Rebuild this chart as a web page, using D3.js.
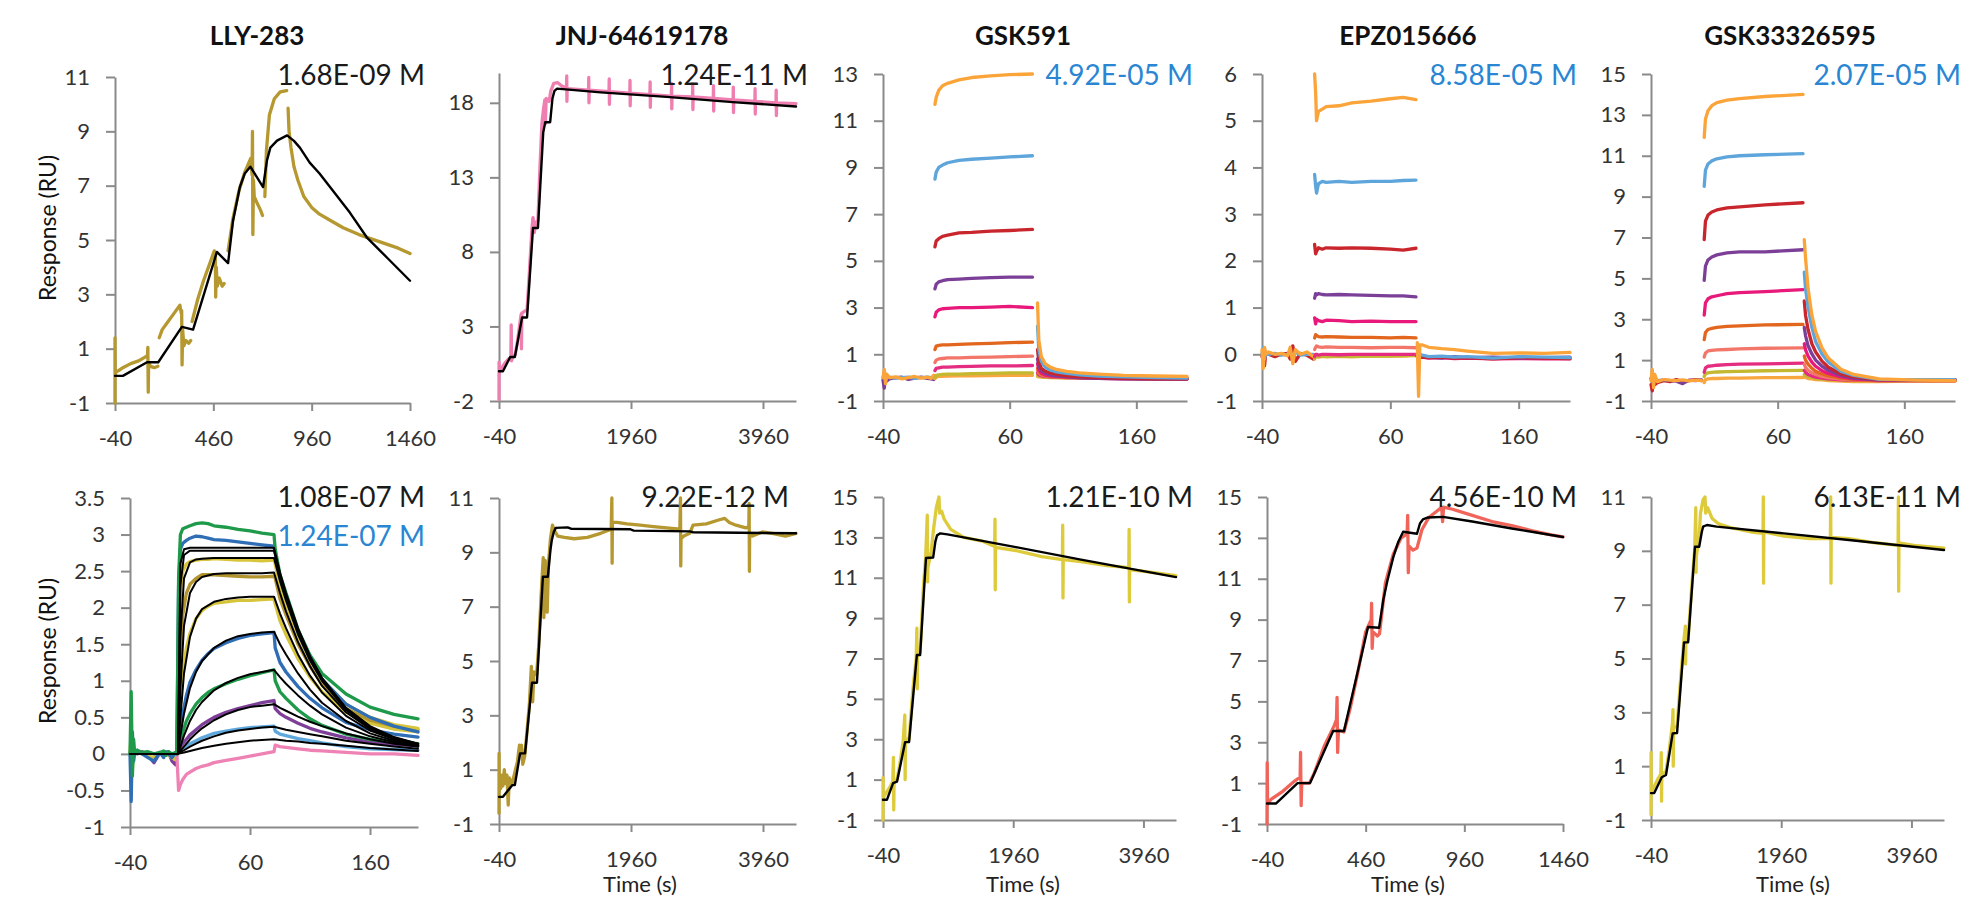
<!DOCTYPE html>
<html>
<head>
<meta charset="utf-8">
<script src="https://cdn.jsdelivr.net/npm/d3@7/dist/d3.min.js"></script>
<style>
  body { margin: 0; background: #fff; }
  svg text { font-family: Lato, 'Open Sans', sans-serif; }
</style>
</head>
<body>
<svg id="chart" width="1971" height="899"></svg>
<script>
// ---------- axis ticks ----------
const ticksSingleShort = [-40, 460, 960, 1460]
const ticksSingleLong = [-40, 1960, 3960]
const ticksMulti = [-40, 60, 160]

// ---------- LLY-283, single cycle (top) ----------
const lly283SccData = [
  [-40, -1.0], [-40, 1.4], [-39, 0.0], [-35, 0.15], [-20, 0.2], [0, 0.3], [40, 0.45], [80, 0.55], [115, 0.7],
  [125, 0.75], [127, 1.05], [129, -0.6], [131, 0.5], [140, 0.35], [160, 0.3], [178, 0.35], null,
  [185, 1.4], [200, 1.7], [230, 2.0], [260, 2.3], [290, 2.6], [297, 2.3], [299, 2.4], [301, 0.4], [304, 1.7],
  [310, 1.1], [320, 1.3], [335, 1.2], [345, 1.3], null,
  [352, 2.0], [380, 2.8], [410, 3.5], [440, 4.1], [465, 4.6], [470, 4.5], [472, 2.9], [475, 4.0], [480, 3.3],
  [490, 3.6], [505, 3.3], [515, 3.4], null,
  [535, 4.6], [560, 5.8], [590, 6.8], [620, 7.5], [650, 8.0], [657, 7.4], [659, 9.0], [661, 5.2], [664, 7.2],
  [668, 6.6], [680, 6.4], [700, 6.1], [710, 5.9], null,
  [722, 6.6], [730, 8.3], [745, 9.6], [770, 10.2], [800, 10.45], [833, 10.5], null,
  [840, 9.85], [845, 9.0], [855, 8.4], [870, 7.7], [890, 7.2], [920, 6.6], [960, 6.2], [1000, 5.95],
  [1060, 5.7], [1120, 5.45], [1200, 5.2], [1300, 4.95], [1400, 4.7], [1460, 4.5]
]
const lly283SccFit = [
  [-40, 0], [0, 0], [123, 0.5], [180, 0.5], [300, 1.8], [357, 1.7], [478, 4.56], [535, 4.15], [560, 5.7],
  [595, 6.95], [620, 7.45], [648, 7.7], [713, 6.95], [733, 7.94], [750, 8.4], [784, 8.66], [835, 8.85],
  [870, 8.65], [900, 8.4], [950, 7.85], [1000, 7.45], [1080, 6.7], [1155, 6.0], [1240, 5.1], [1350, 4.3], [1460, 3.5]
]

// ---------- LLY-283, multi cycle (bottom) ----------
const lly283McBaseTime = [-40, -39, -38, -37, -36, -34, -30, -25, -20, -15, -12, -10, -8, -5, -2, -1]
const lly283McBase = [
  [0, 0.1, -0.1, 0, 0.02, 0, 0.03, -0.02, -0.12, 0.02, 0, -0.02, 0.03, -0.1, -0.15, 0],
  [0, 0.3, -0.2, 0.05, 0, 0.02, 0.0, -0.03, -0.05, 0.0, 0.03, 0.0, -0.02, -0.05, -0.08, 0],
  [0, -0.65, 0.3, -0.1, 0.02, 0.05, 0, -0.05, -0.1, 0.02, -0.05, 0.03, 0.0, -0.05, 0.02, 0],
  [0, 0.85, -0.3, 0.2, 0, 0.05, 0.02, 0.03, 0.0, 0.02, 0.04, -0.02, 0.03, 0.0, 0.02, 0]
]
const lly283McTime = [-1, 0.5, 2, 4, 7, 10, 15, 20, 25, 30, 40, 50, 60, 70, 80, 81, 85, 90, 100, 110, 120, 140, 160, 180, 200]
const lly283McData = [
  [0, 2.4, 3.0, 3.08, 3.1, 3.12, 3.15, 3.16, 3.15, 3.12, 3.1, 3.07, 3.05, 3.02, 3.0, 2.8, 2.45, 2.2, 1.7, 1.35, 1.1, 0.82, 0.64, 0.54, 0.48],
  [0, 2.3, 2.8, 2.88, 2.92, 2.95, 2.98, 2.97, 2.95, 2.93, 2.92, 2.9, 2.88, 2.86, 2.84, 2.75, 2.4, 2.15, 1.66, 1.3, 1.02, 0.68, 0.5, 0.38, 0.3],
  [0, 1.2, 2.2, 2.5, 2.6, 2.63, 2.65, 2.66, 2.66, 2.67, 2.66, 2.65, 2.65, 2.64, 2.65, 2.6, 2.28, 2.05, 1.62, 1.28, 1.02, 0.68, 0.5, 0.4, 0.35],
  [0, 0.6, 1.4, 1.9, 2.2, 2.32, 2.4, 2.45, 2.45, 2.45, 2.44, 2.43, 2.42, 2.42, 2.43, 2.4, 2.12, 1.9, 1.5, 1.2, 0.95, 0.62, 0.46, 0.38, 0.33],
  [0, 0.3, 0.7, 1.1, 1.45, 1.65, 1.85, 1.96, 2.02, 2.06, 2.08, 2.1, 2.1, 2.11, 2.12, 2.05, 1.82, 1.63, 1.3, 1.05, 0.85, 0.57, 0.42, 0.34, 0.3],
  [0, 0.15, 0.35, 0.55, 0.8, 0.98, 1.15, 1.28, 1.37, 1.44, 1.52, 1.58, 1.62, 1.64, 1.66, 1.45, 1.25, 1.12, 0.92, 0.76, 0.63, 0.43, 0.33, 0.27, 0.23],
  [0, 0.08, 0.18, 0.3, 0.45, 0.55, 0.68, 0.77, 0.84, 0.89, 0.96, 1.02, 1.07, 1.11, 1.15, 1.0, 0.85, 0.76, 0.6, 0.48, 0.39, 0.27, 0.2, 0.16, 0.14],
  [0, 0.03, 0.08, 0.14, 0.2, 0.26, 0.33, 0.4, 0.45, 0.5, 0.57, 0.62, 0.66, 0.7, 0.73, 0.62, 0.55, 0.5, 0.42, 0.35, 0.3, 0.22, 0.16, 0.13, 0.11],
  [0, 0.02, 0.05, 0.08, 0.11, 0.14, 0.18, 0.22, 0.25, 0.28, 0.31, 0.34, 0.36, 0.37, 0.38, 0.31, 0.27, 0.25, 0.21, 0.18, 0.15, 0.1, 0.07, 0.06, 0.05],
  [0, -0.5, -0.42, -0.35, -0.28, -0.25, -0.2, -0.17, -0.15, -0.12, -0.09, -0.06, -0.03, 0.0, 0.03, 0.12, 0.1, 0.09, 0.07, 0.05, 0.04, 0.02, 0.0, 0.0, -0.02]
]
const lly283McFitTime = [-40, 0, 2, 5, 10, 15, 20, 30, 40, 50, 60, 70, 80, 85, 90, 100, 110, 120, 140, 160, 180, 200]
const lly283McFit = [
  [0, 0, 2.6, 2.8, 2.82, 2.82, 2.82, 2.82, 2.82, 2.82, 2.82, 2.82, 2.82, 2.48, 2.2, 1.72, 1.34, 1.04, 0.63, 0.38, 0.23, 0.14],
  [0, 0, 2.3, 2.72, 2.78, 2.78, 2.78, 2.78, 2.78, 2.78, 2.78, 2.78, 2.78, 2.45, 2.17, 1.7, 1.32, 1.03, 0.62, 0.37, 0.22, 0.14],
  [0, 0, 1.6, 2.4, 2.62, 2.66, 2.67, 2.68, 2.68, 2.68, 2.68, 2.68, 2.68, 2.37, 2.1, 1.64, 1.28, 1.0, 0.6, 0.36, 0.22, 0.13],
  [0, 0, 0.9, 1.75, 2.2, 2.35, 2.42, 2.46, 2.47, 2.47, 2.47, 2.47, 2.48, 2.2, 1.95, 1.53, 1.2, 0.93, 0.57, 0.34, 0.21, 0.13],
  [0, 0, 0.5, 1.1, 1.6, 1.85, 1.98, 2.08, 2.12, 2.14, 2.15, 2.15, 2.15, 1.92, 1.72, 1.36, 1.07, 0.84, 0.52, 0.32, 0.2, 0.12],
  [0, 0, 0.25, 0.55, 0.9, 1.12, 1.27, 1.45, 1.55, 1.61, 1.64, 1.66, 1.67, 1.5, 1.36, 1.1, 0.88, 0.7, 0.45, 0.28, 0.18, 0.11],
  [0, 0, 0.1, 0.25, 0.45, 0.6, 0.71, 0.87, 0.97, 1.04, 1.09, 1.12, 1.15, 1.05, 0.96, 0.8, 0.66, 0.54, 0.36, 0.24, 0.16, 0.1],
  [0, 0, 0.04, 0.1, 0.2, 0.28, 0.35, 0.46, 0.54, 0.6, 0.64, 0.66, 0.68, 0.63, 0.59, 0.51, 0.44, 0.38, 0.28, 0.2, 0.14, 0.1],
  [0, 0, 0.02, 0.05, 0.1, 0.14, 0.18, 0.24, 0.29, 0.32, 0.34, 0.36, 0.37, 0.35, 0.33, 0.3, 0.27, 0.24, 0.18, 0.14, 0.1, 0.07],
  [0, 0, 0.01, 0.02, 0.04, 0.06, 0.08, 0.11, 0.14, 0.16, 0.18, 0.19, 0.2, 0.19, 0.18, 0.17, 0.15, 0.14, 0.11, 0.08, 0.06, 0.04]
]

// ---------- JNJ-64619178 ----------
const jnjTopData = [
  [-40, -1.9], [-39, 0.6], [-37, -0.2], [-30, 0.1], [-10, 0.1], [20, 0.35], [60, 0.6], [100, 0.8], [140, 0.95],
  [145, 3.1], [150, 0.7], [170, 1.0], [205, 1.1], [240, 2.0], [270, 3.0], [295, 3.8], [300, 1.5], [306, 3.9],
  [340, 4.0], [385, 4.1], [420, 6.6], [460, 9.6], [475, 10.3], [495, 9.3], [520, 10.0], [550, 10.1], [580, 13.6],
  [610, 16.6], [635, 17.6], [655, 18.2], [662, 16.6], [675, 18.3], [720, 18.1], [745, 18.8], [790, 19.3],
  [850, 19.35], [920, 19.1],
  [983, 19.0], [986, 19.8], [989, 18.1], [993, 18.95],
  [1317, 18.85], [1320, 19.7], [1323, 18.0], [1327, 18.85],
  [1627, 18.75], [1630, 19.6], [1633, 17.9], [1637, 18.75],
  [1942, 18.65], [1945, 19.5], [1948, 17.8], [1952, 18.65],
  [2247, 18.55], [2250, 19.4], [2253, 17.7], [2257, 18.55],
  [2572, 18.45], [2575, 19.3], [2578, 17.6], [2582, 18.45],
  [2892, 18.4], [2895, 19.25], [2898, 17.55], [2902, 18.4],
  [3207, 18.3], [3210, 19.15], [3213, 17.45], [3217, 18.3],
  [3507, 18.2], [3510, 19.05], [3513, 17.35], [3517, 18.2],
  [3837, 18.1], [3840, 18.95], [3843, 17.25], [3847, 18.1],
  [4157, 18.0], [4160, 18.85], [4163, 17.15], [4167, 18.0],
  [4460, 17.95]
]
const jnjTopFit = [
  [-40, 0], [20, 0], [130, 0.95], [200, 0.95], [310, 3.6], [385, 3.6], [475, 9.6], [550, 9.6], [630, 16.0],
  [660, 16.7], [735, 16.7], [770, 18.3], [800, 18.8], [840, 18.95], [1500, 18.7], [2500, 18.4], [3500, 18.05], [4460, 17.75]
]
const jnjBotData = [
  [-40, -0.6], [-39, 1.6], [-37, 0.2], [-30, 0.6], [-15, 0.3], [0, 0.8], [20, 0.4], [40, 1.0], [60, 0.5],
  [80, 0.8], [100, -0.3], [115, 0.7], [140, 0.5], [160, 0.5], [200, 0.9], [240, 1.3], [270, 1.9], [290, 1.6],
  [300, 1.9], [320, 1.2], [350, 1.5], [380, 2.3], [420, 3.4], [450, 4.8], [470, 3.5], [490, 4.6], [530, 4.5],
  [560, 5.5], [600, 7.5], [630, 8.8], [640, 6.6], [660, 8.7], [690, 6.8], [710, 8.6], [740, 9.5], [770, 10.0],
  [800, 9.8], [850, 9.6], [950, 9.55], [1100, 9.5], [1300, 9.55], [1500, 9.7], [1660, 9.85],
  [1670, 11.0], [1674, 8.6], [1678, 10.1], [1750, 10.1], [1900, 10.05], [2100, 10.0], [2300, 9.95], [2500, 9.9],
  [2700, 9.85], [2710, 11.0], [2714, 8.5], [2718, 9.5], [2760, 9.6], [2850, 9.7], [2900, 10.0], [3100, 10.05],
  [3300, 10.2], [3380, 10.25], [3450, 10.1], [3550, 10.0], [3700, 9.9], [3745, 9.95], [3750, 10.8], [3754, 8.3],
  [3758, 9.7], [3800, 9.6], [3950, 9.75], [4100, 9.7], [4300, 9.6], [4460, 9.7]
]
const jnjBotFit = [
  [-40, 0], [20, 0], [160, 0.43], [200, 0.43], [280, 1.6], [355, 1.6], [460, 4.2], [535, 4.2], [625, 8.1],
  [700, 8.1], [740, 9.1], [760, 9.45], [790, 9.75], [820, 9.9], [1000, 9.92], [1050, 9.87], [1950, 9.85],
  [2000, 9.8], [2850, 9.77], [2900, 9.74], [4460, 9.7]
]

// ---------- GSK591 ----------
const gsk591BaseTime = [-40, -39, -38, -37, -35, -30, -25, -20, -15, -10, -5, -2, 0]
const gsk591Base = [
  [-0.1, -0.45, 0.1, -0.15, -0.05, 0.0, 0.02, -0.08, -0.02, 0.02, -0.03, -0.05, -0.08],
  [0.0, 0.1, -0.1, 0.05, 0.02, -0.02, 0.0, 0.02, -0.03, 0.0, 0.02, 0.0, 0.0],
  [0.0, 0.35, -0.25, 0.15, 0.0, 0.03, -0.05, 0.0, 0.05, -0.02, 0.02, -0.03, 0.1]
]
const gsk591AssocTime = [1, 2, 4, 7, 11, 20, 30, 45, 60, 78]
const gsk591Assoc = [
  [11.7, 12.0, 12.3, 12.5, 12.6, 12.75, 12.85, 12.92, 12.97, 13.0],
  [8.5, 8.8, 9.0, 9.1, 9.2, 9.3, 9.35, 9.4, 9.45, 9.5],
  [5.6, 5.85, 5.95, 6.05, 6.1, 6.2, 6.22, 6.27, 6.3, 6.35],
  [3.8, 4.0, 4.1, 4.15, 4.2, 4.22, 4.25, 4.28, 4.3, 4.3],
  [2.6, 2.8, 2.9, 2.95, 2.97, 3.0, 3.0, 3.02, 3.05, 3.0],
  [1.2, 1.35, 1.38, 1.4, 1.4, 1.42, 1.45, 1.47, 1.5, 1.52],
  [0.65, 0.75, 0.8, 0.82, 0.85, 0.85, 0.87, 0.88, 0.9, 0.92],
  [0.3, 0.4, 0.42, 0.45, 0.45, 0.47, 0.48, 0.5, 0.5, 0.52],
  [0.0, 0.1, 0.12, 0.14, 0.15, 0.15, 0.17, 0.18, 0.2, 0.2],
  [-0.05, 0.02, 0.05, 0.06, 0.07, 0.08, 0.08, 0.09, 0.1, 0.1]
]
const gsk591DissTime = [82, 83, 85, 88, 92, 97, 105, 115, 130, 150, 175, 200]
const gsk591Diss = [
  [3.2, 1.6, 0.9, 0.6, 0.45, 0.35, 0.27, 0.2, 0.15, 0.1, 0.07, 0.05],
  [2.2, 1.2, 0.7, 0.45, 0.33, 0.25, 0.18, 0.12, 0.07, 0.03, 0.0, -0.02],
  [1.2, 0.7, 0.4, 0.28, 0.2, 0.14, 0.08, 0.04, 0.0, -0.03, -0.05, -0.05],
  [0.8, 0.5, 0.3, 0.2, 0.12, 0.08, 0.04, 0.0, -0.03, -0.05, -0.06, -0.06],
  [0.6, 0.35, 0.2, 0.12, 0.08, 0.05, 0.02, 0.0, -0.03, -0.05, -0.05, -0.06],
  [0.4, 0.25, 0.15, 0.1, 0.06, 0.04, 0.02, 0.0, -0.02, -0.03, -0.04, -0.04],
  [0.3, 0.2, 0.12, 0.08, 0.05, 0.03, 0.01, 0.0, -0.02, -0.03, -0.03, -0.04],
  [0.2, 0.12, 0.08, 0.05, 0.03, 0.02, 0.0, -0.01, -0.02, -0.03, -0.03, -0.03],
  [0.1, 0.06, 0.04, 0.02, 0.01, 0.0, -0.01, -0.01, -0.02, -0.02, -0.02, -0.02],
  [0.05, 0.03, 0.02, 0.01, 0.0, 0.0, -0.01, -0.01, -0.01, -0.01, -0.02, -0.02]
]
const gsk591SccData = [
  [-40, -1.0], [-39, 1.1], [-37, 0.1], [0, 0.3], [60, 0.6], [110, 0.9], [120, 2.1], [125, -0.5], [130, 0.9],
  [175, 1.0], [220, 1.8], [270, 2.9], [295, 4.2], [300, 1.0], [305, 3.0], [360, 3.0], [420, 5.5], [470, 7.0],
  [480, 8.5], [486, 5.5], [490, 7.2], [530, 7.3], [580, 10.5], [615, 12.0], [640, 14.1], [645, 10.8], [650, 11.5],
  [700, 12.3], [740, 13.5], [780, 14.5], [820, 15.0], [830, 14.2], [860, 14.3], [900, 13.9], [1000, 13.4],
  [1200, 13.0], [1500, 12.8], [1675, 12.55], [1680, 13.9], [1684, 10.4], [1688, 12.5], [2000, 12.35],
  [2400, 12.05], [2715, 11.9], [2720, 13.6], [2724, 10.0], [2728, 11.9], [3000, 11.8], [3400, 11.6],
  [3735, 11.5], [3740, 13.4], [3744, 9.8], [3748, 11.4], [4000, 11.3], [4460, 11.1]
]
const gsk591SccFit = [
  [-40, 0], [20, 0], [115, 0.83], [175, 0.9], [300, 2.86], [360, 2.86], [480, 7.17], [530, 7.17], [620, 11.98],
  [730, 12.0], [765, 12.8], [790, 13.1], [840, 13.2], [950, 13.15], [2000, 12.52], [3000, 11.9], [4460, 11.03]
]

// ---------- EPZ015666 ----------
const epzBaseTime = [-40, -39, -38, -37, -35, -30, -25, -20, -18, -16, -14, -10, -5, 0]
const epzBase = [
  [-0.05, 0.1, -0.25, 0.05, 0.0, -0.05, 0.0, 0.02, -0.1, 0.18, -0.15, 0.02, -0.02, -0.1],
  [0.0, 0.15, -0.1, 0.02, 0.0, 0.02, -0.02, 0.0, 0.05, -0.05, 0.05, -0.02, 0.0, 0.0],
  [0.1, -0.3, 0.15, 0.0, 0.05, 0.0, 0.02, -0.03, 0.15, -0.2, 0.1, 0.0, 0.05, -0.05]
]
const epzAssocTime = [1, 1.8, 2.5, 4, 7, 10, 20, 30, 45, 60, 70, 80]
const epzAssoc = [
  [6.0, 5.6, 5.0, 5.2, 5.25, 5.3, 5.32, 5.38, 5.42, 5.47, 5.5, 5.45],
  [3.85, 3.6, 3.45, 3.65, 3.7, 3.68, 3.7, 3.68, 3.7, 3.7, 3.72, 3.73],
  [2.35, 2.15, 2.2, 2.28, 2.25, 2.28, 2.27, 2.28, 2.27, 2.25, 2.23, 2.27],
  [1.2, 1.3, 1.27, 1.3, 1.28, 1.27, 1.28, 1.27, 1.26, 1.25, 1.25, 1.23],
  [0.78, 0.65, 0.75, 0.72, 0.7, 0.73, 0.72, 0.7, 0.71, 0.7, 0.7, 0.7],
  [0.35, 0.42, 0.4, 0.38, 0.37, 0.38, 0.37, 0.36, 0.36, 0.35, 0.36, 0.35],
  [0.1, 0.15, 0.18, 0.16, 0.15, 0.16, 0.15, 0.15, 0.14, 0.15, 0.15, 0.14],
  [-0.05, 0.0, 0.0, -0.02, 0.0, 0.0, -0.01, 0.0, 0.0, 0.0, 0.0, 0.0],
  [-0.08, -0.05, -0.04, -0.05, -0.04, -0.05, -0.04, -0.05, -0.04, -0.04, -0.03, -0.02],
  [-0.1, -0.06, -0.05, -0.06, -0.05, -0.05, -0.05, -0.05, -0.04, -0.04, -0.04, -0.03]
]
const epzDissTime = [81, 82, 83, 85, 90, 100, 110, 120, 140, 160, 180, 200]
const epzDiss = [
  [0.25, -0.9, 0.2, 0.2, 0.15, 0.12, 0.1, 0.07, 0.02, 0.03, 0.02, 0.04],
  [0.0, 0.05, 0.0, -0.02, -0.05, -0.04, -0.06, -0.05, -0.08, -0.05, -0.06, -0.07],
  [-0.05, -0.03, -0.05, -0.06, -0.07, -0.06, -0.08, -0.07, -0.1, -0.07, -0.08, -0.09],
  [-0.03, -0.02, -0.04, -0.05, -0.06, -0.08, -0.05, -0.07, -0.06, -0.08, -0.07, -0.06],
  [-0.05, -0.06, -0.07, -0.06, -0.08, -0.07, -0.09, -0.08, -0.1, -0.09, -0.1, -0.1]
]
const epzSccData = [
  [-40, -1.0], [-39, 2.0], [-37, 0.0], [-20, 0.2], [40, 0.6], [100, 1.1], [128, 1.3], [130, 2.5], [133, -0.1],
  [136, 1.0], [175, 1.0], [200, 1.5], [250, 2.8], [300, 3.8], [312, 4.1], [315, 5.2], [318, 2.5], [322, 3.6],
  [350, 3.5], [380, 4.6], [420, 6.4], [460, 8.4], [488, 9.0], [490, 9.8], [493, 7.6], [497, 8.4], [520, 8.2],
  [530, 8.3], [560, 10.8], [600, 12.2], [640, 13.0], [670, 13.2], [673, 14.1], [676, 11.3], [680, 12.6],
  [700, 12.4], [720, 12.5], [745, 13.4], [780, 14.0], [820, 14.3], [845, 14.5], [850, 13.8], [855, 14.5],
  [900, 14.4], [1000, 14.1], [1100, 13.8], [1200, 13.6], [1300, 13.35], [1400, 13.15], [1460, 13.05]
]
const epzSccFit = [
  [-40, 0], [5, 0], [115, 1.0], [178, 1.0], [295, 3.55], [350, 3.55], [472, 8.64], [528, 8.6], [550, 10.0],
  [570, 10.9], [600, 12.06], [625, 12.8], [650, 13.3], [720, 13.2], [735, 13.7], [750, 13.9], [776, 14.0],
  [852, 14.03], [1000, 13.8], [1200, 13.46], [1460, 13.04]
]

// ---------- GSK33326595 ----------
const gsk333BaseTime = [-40, -39, -38, -37, -35, -30, -25, -20, -15, -10, -5, 0]
const gsk333Base = [
  [-0.2, -0.5, 0.1, -0.2, -0.1, 0.0, -0.05, 0.05, -0.05, 0.0, 0.05, 0.0],
  [0.1, 0.2, -0.1, 0.05, 0.0, 0.02, 0.0, -0.03, -0.15, 0.02, 0.0, 0.03],
  [0.0, 0.55, -0.35, 0.3, -0.05, 0.05, 0.02, 0.0, 0.03, -0.02, 0.02, 0.0]
]
const gsk333AssocTime = [2, 3, 5, 8, 12, 20, 30, 50, 80]
const gsk333Assoc = [
  [11.9, 12.8, 13.2, 13.45, 13.6, 13.72, 13.8, 13.9, 14.0],
  [9.5, 10.3, 10.6, 10.75, 10.85, 10.95, 11.0, 11.05, 11.1],
  [6.9, 7.8, 8.1, 8.25, 8.35, 8.45, 8.5, 8.6, 8.7],
  [4.9, 5.6, 5.9, 6.05, 6.15, 6.25, 6.3, 6.3, 6.4],
  [3.2, 3.8, 4.0, 4.1, 4.15, 4.25, 4.3, 4.35, 4.45],
  [2.0, 2.35, 2.5, 2.55, 2.6, 2.65, 2.68, 2.72, 2.75],
  [1.15, 1.35, 1.45, 1.48, 1.5, 1.52, 1.55, 1.58, 1.6],
  [0.4, 0.62, 0.7, 0.72, 0.75, 0.78, 0.8, 0.82, 0.85],
  [0.2, 0.32, 0.38, 0.4, 0.42, 0.44, 0.45, 0.48, 0.5],
  [-0.1, 0.05, 0.08, 0.1, 0.1, 0.12, 0.12, 0.14, 0.15]
]
const gsk333DissTime = [81, 82, 84, 87, 90, 95, 100, 110, 120, 140, 170, 200]
const gsk333Diss = [
  [6.9, 6.0, 4.5, 3.2, 2.4, 1.6, 1.1, 0.55, 0.3, 0.08, 0.02, 0.0],
  [5.3, 4.5, 3.6, 2.6, 1.9, 1.3, 0.9, 0.45, 0.25, 0.06, 0.05, 0.05],
  [3.9, 3.2, 2.5, 1.8, 1.4, 0.95, 0.65, 0.32, 0.18, 0.05, 0.05, 0.05],
  [2.6, 2.2, 1.7, 1.3, 1.0, 0.7, 0.5, 0.25, 0.12, 0.03, 0.03, 0.03],
  [1.8, 1.5, 1.2, 0.9, 0.7, 0.48, 0.35, 0.18, 0.08, 0.02, 0.05, 0.05],
  [1.2, 1.0, 0.8, 0.6, 0.45, 0.32, 0.23, 0.12, 0.05, 0.0, 0.0, 0.0],
  [0.8, 0.65, 0.5, 0.38, 0.3, 0.2, 0.14, 0.07, 0.03, 0.0, 0.0, 0.0],
  [0.5, 0.4, 0.3, 0.22, 0.17, 0.12, 0.08, 0.04, 0.02, 0.0, 0.0, 0.0],
  [0.3, 0.25, 0.2, 0.15, 0.1, 0.07, 0.05, 0.03, 0.0, 0.0, 0.0, 0.0],
  [0.2, 0.15, 0.1, 0.08, 0.05, 0.03, 0.0, -0.03, -0.05, -0.05, -0.03, -0.03]
]
const gsk333SccData = [
  [-40, -0.8], [-39, 1.5], [-37, 0.0], [0, 0.2], [60, 0.5], [110, 0.7], [118, 1.5], [122, -0.3], [126, 0.7],
  [190, 0.8], [240, 1.6], [290, 2.6], [298, 3.1], [302, 1.0], [306, 2.4], [360, 2.5], [420, 4.4], [470, 5.8],
  [488, 6.2], [492, 4.8], [496, 5.8], [530, 5.7], [580, 7.5], [630, 9.0], [648, 10.6], [652, 8.2], [656, 8.8],
  [700, 9.5], [720, 10.4], [760, 10.9], [790, 11.0], [800, 10.4], [830, 10.6], [900, 10.2], [1000, 10.0],
  [1200, 9.85], [1500, 9.7], [1680, 9.65], [1685, 11.0], [1689, 7.8], [1693, 9.7], [2000, 9.55], [2400, 9.45],
  [2715, 9.45], [2720, 11.0], [2724, 7.8], [2728, 9.5], [3000, 9.45], [3400, 9.3], [3755, 9.2], [3760, 11.0],
  [3764, 7.5], [3768, 9.3], [4000, 9.2], [4460, 9.1]
]
const gsk333SccFit = [
  [-40, 0], [10, 0], [125, 0.59], [190, 0.67], [293, 2.22], [360, 2.23], [467, 5.6], [530, 5.6], [635, 9.15],
  [700, 9.15], [740, 9.7], [760, 9.9], [820, 9.96], [970, 9.9], [2000, 9.65], [3000, 9.4], [4460, 9.03]
]

// ---------- colours ----------
const multiColors = ['#FAA43A', '#5DA5DA', '#C9252C', '#7B3F98', '#E8197A', '#E2661E', '#F2766A', '#E42D80', '#C4B830', '#F8A640']
const lly283McColors = ['#1E9A4A', '#2F6DB5', '#D9C53B', '#B3952F', '#D6C43A', '#2F6DB5', '#1E9A4A', '#7D3F98', '#5EA8DD', '#EF82B4']
const lly283McBaseColors = ['#7D3F98', '#D9C53B', '#2F6DB5', '#1E9A4A']
const baseColorIdx = [3, 1, 0]
const gold = '#B5982F'
const noteBlue = '#2A86D3'

const pairs = (times, values) => times.map((t, i) => [t, values[i]])

// multi-cycle panels: baseline, association and dissociation pieces, largest drawn last
function multiSeries (baseTime, base, baseColors, assocTime, assoc, dissTime, diss) {
  const out = []
  base.forEach((v, i) => out.push({ points: pairs(baseTime, v), color: baseColors[i], width: 3.3 }))
  for (let i = assoc.length - 1; i >= 0; i--) {
    out.push({ points: pairs(assocTime, assoc[i]), color: multiColors[i], width: 3.3 })
  }
  for (let i = diss.length - 1; i >= 0; i--) {
    out.push({ points: pairs(dissTime, diss[i]), color: multiColors[i], width: 3.3 })
  }
  return out
}

const svg = d3.select('#chart')

const panels = [
  {
    left: 115, right: 410, top: 77, bottom: 403, xDomain: [-40, 1460], yDomain: [-1, 11],
    xTicks: ticksSingleShort, yTicks: d3.range(-1, 12, 2),
    title: 'LLY-283', titleX: 257, yLabel: 228,
    notes: [{ text: '1.68E-09 M', x: 425, y: 85, color: '#1a1a1a' }],
    series: [
      { points: lly283SccData, color: gold, width: 3.3 },
      { points: lly283SccFit, color: '#000', width: 2.4 }
    ]
  },
  {
    left: 499, right: 796, top: 73, bottom: 401, xDomain: [-40, 4460], yDomain: [-2, 20],
    xTicks: ticksSingleLong, yTicks: [-2, 3, 8, 13, 18],
    title: 'JNJ-64619178', titleX: 642,
    notes: [{ text: '1.24E-11 M', x: 808, y: 85, color: '#1a1a1a' }],
    series: [
      { points: jnjTopData, color: '#EE7FB0', width: 3.3 },
      { points: jnjTopFit, color: '#000', width: 2.4 }
    ]
  },
  {
    left: 883, right: 1187, top: 74, bottom: 401, xDomain: [-40, 200], yDomain: [-1, 13],
    xTicks: ticksMulti, yTicks: d3.range(-1, 14, 2),
    title: 'GSK591', titleX: 1023,
    notes: [{ text: '4.92E-05 M', x: 1193, y: 85, color: noteBlue }],
    series: multiSeries(gsk591BaseTime, gsk591Base, baseColorIdx.map(i => multiColors[i]),
      gsk591AssocTime, gsk591Assoc, gsk591DissTime, gsk591Diss)
  },
  {
    left: 1262, right: 1570, top: 74, bottom: 401, xDomain: [-40, 200], yDomain: [-1, 6],
    xTicks: ticksMulti, yTicks: d3.range(-1, 7, 1),
    title: 'EPZ015666', titleX: 1408,
    notes: [{ text: '8.58E-05 M', x: 1577, y: 85, color: noteBlue }],
    series: multiSeries(epzBaseTime, epzBase, [multiColors[2], multiColors[1], multiColors[0]],
      epzAssocTime, epzAssoc, epzDissTime, epzDiss)
  },
  {
    left: 1651, right: 1955, top: 74, bottom: 401, xDomain: [-40, 200], yDomain: [-1, 15],
    xTicks: ticksMulti, yTicks: d3.range(-1, 16, 2),
    title: 'GSK33326595', titleX: 1790,
    notes: [{ text: '2.07E-05 M', x: 1961, y: 85, color: noteBlue }],
    series: multiSeries(gsk333BaseTime, gsk333Base, [multiColors[2], multiColors[3], multiColors[0]],
      gsk333AssocTime, gsk333Assoc, gsk333DissTime, gsk333Diss)
  },
  {
    left: 130, right: 418, top: 498, bottom: 827, xDomain: [-40, 200], yDomain: [-1, 3.5],
    xTicks: ticksMulti, yTicks: d3.range(-1, 3.6, 0.5), yLabel: 651,
    notes: [
      { text: '1.08E-07 M', x: 425, y: 507, color: '#1a1a1a' },
      { text: '1.24E-07 M', x: 425, y: 546, color: noteBlue }
    ],
    series: [].concat(
      lly283McBase.map((v, i) => ({ points: pairs(lly283McBaseTime, v), color: lly283McBaseColors[i], width: 3.3 })),
      lly283McData.map((v, i) => ({ points: pairs(lly283McTime, v), color: lly283McColors[i], width: 3.3 })).reverse(),
      lly283McFit.map(v => ({ points: pairs(lly283McFitTime, v), color: '#000', width: 2 }))
    )
  },
  {
    left: 499, right: 796, top: 498, bottom: 824, xDomain: [-40, 4460], yDomain: [-1, 11],
    xTicks: ticksSingleLong, yTicks: d3.range(-1, 12, 2), xLabel: 640,
    notes: [{ text: '9.22E-12 M', x: 789, y: 507, color: '#1a1a1a' }],
    series: [
      { points: jnjBotData, color: gold, width: 3.3 },
      { points: jnjBotFit, color: '#000', width: 2.4 }
    ]
  },
  {
    left: 883, right: 1176, top: 497, bottom: 820, xDomain: [-40, 4460], yDomain: [-1, 15],
    xTicks: ticksSingleLong, yTicks: d3.range(-1, 16, 2), xLabel: 1023,
    notes: [{ text: '1.21E-10 M', x: 1193, y: 507, color: '#1a1a1a' }],
    series: [
      { points: gsk591SccData, color: '#DDCB3C', width: 3.3 },
      { points: gsk591SccFit, color: '#000', width: 2.4 }
    ]
  },
  {
    left: 1267, right: 1563, top: 497, bottom: 824, xDomain: [-40, 1460], yDomain: [-1, 15],
    xTicks: ticksSingleShort, yTicks: d3.range(-1, 16, 2), xLabel: 1408,
    notes: [{ text: '4.56E-10 M', x: 1577, y: 507, color: '#1a1a1a' }],
    series: [
      { points: epzSccData, color: '#F0645A', width: 3.3 },
      { points: epzSccFit, color: '#000', width: 2.4 }
    ]
  },
  {
    left: 1651, right: 1944, top: 497, bottom: 820, xDomain: [-40, 4460], yDomain: [-1, 11],
    xTicks: ticksSingleLong, yTicks: d3.range(-1, 12, 2), xLabel: 1793,
    notes: [{ text: '6.13E-11 M', x: 1961, y: 507, color: '#1a1a1a' }],
    series: [
      { points: gsk333SccData, color: '#DDCB3C', width: 3.3 },
      { points: gsk333SccFit, color: '#000', width: 2.4 }
    ]
  }
]

function drawPanel (p, idx) {
  const x = d3.scaleLinear().domain(p.xDomain).range([p.left, p.right])
  const y = d3.scaleLinear().domain(p.yDomain).range([p.bottom, p.top])
  const g = svg.append('g').attr('class', 'panel')

  g.append('g')
    .attr('transform', `translate(0,${p.bottom})`)
    .call(d3.axisBottom(x).tickValues(p.xTicks).tickSize(8).tickSizeOuter(0).tickPadding(19).tickFormat(d => String(d)))
  g.append('g')
    .attr('transform', `translate(${p.left},0)`)
    .call(d3.axisLeft(y).tickValues(p.yTicks).tickSize(9).tickSizeOuter(0).tickPadding(16).tickFormat(d => String(+d.toFixed(1))))

  g.selectAll('.domain, .tick line').attr('stroke', '#8a8a8a').attr('stroke-width', 2)
  g.selectAll('.tick text')
    .attr('fill', '#333')
    .style('font-size', '22px')
    .style('font-family', "Lato, 'Open Sans', sans-serif")

  const clipId = 'clip' + idx
  svg.append('clipPath').attr('id', clipId)
    .append('rect')
    .attr('x', p.left - 2).attr('y', p.top - 4)
    .attr('width', p.right - p.left + 8).attr('height', p.bottom - p.top + 6)

  const line = d3.line()
    .defined(d => d !== null)
    .x(d => x(d[0]))
    .y(d => y(d[1]))

  g.append('g').attr('clip-path', `url(#${clipId})`)
    .selectAll('path')
    .data(p.series)
    .enter()
    .append('path')
    .attr('d', d => line(d.points))
    .attr('fill', 'none')
    .attr('stroke', d => d.color)
    .attr('stroke-width', d => d.width)
    .attr('stroke-linejoin', 'round')
    .attr('stroke-linecap', 'round')

  if (p.title) {
    g.append('text')
      .attr('x', p.titleX).attr('y', 45)
      .attr('text-anchor', 'middle')
      .style('font-size', '26px').style('font-weight', 700)
      .attr('fill', '#111')
      .text(p.title)
  }

  g.selectAll('.note')
    .data(p.notes)
    .enter()
    .append('text')
    .attr('class', 'note')
    .attr('x', d => d.x).attr('y', d => d.y)
    .attr('text-anchor', 'end')
    .style('font-size', '28px')
    .attr('fill', d => d.color)
    .text(d => d.text)

  if (p.yLabel) {
    g.append('text')
      .attr('transform', `translate(48,${p.yLabel}) rotate(-90)`)
      .attr('text-anchor', 'middle')
      .attr('dy', '0.35em')
      .style('font-size', '23px')
      .attr('fill', '#111')
      .text('Response (RU)')
  }
  if (p.xLabel) {
    g.append('text')
      .attr('x', p.xLabel).attr('y', 892)
      .attr('text-anchor', 'middle')
      .style('font-size', '22px')
      .attr('fill', '#222')
      .text('Time (s)')
  }
}

panels.forEach(drawPanel)
</script>
</body>
</html>
